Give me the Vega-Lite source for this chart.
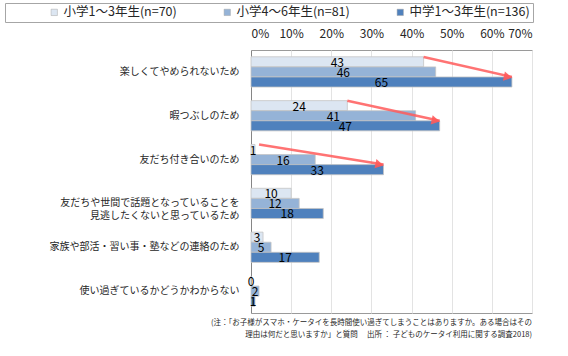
{
  "$schema": "https://vega.github.io/schema/vega-lite/v6.json",
  "width": 281,
  "height": 263,
  "autosize": "none",
  "padding": {"left": 251, "top": 50, "right": 36, "bottom": 43},
  "config": {
    "font": "Noto Sans CJK JP",
    "view": {"stroke": "#9A9A9A", "strokeWidth": 1}
  },
  "title": {
    "text": ["(注：「お子様がスマホ・ケータイを長時間使い過ぎてしまうことはありますか。ある場合はその", "理由は何だと思いますか」と質問　 出所 ： 子どものケータイ利用に関する調査2018)"],
    "orient": "bottom",
    "anchor": "end",
    "align": "right",
    "frame": "group",
    "fontSize": 7.5,
    "fontWeight": "normal",
    "lineHeight": 11.5,
    "color": "#262626",
    "offset": 6
  },
  "datasets": {
    "bars": [
      {"cat": "楽しくてやめられないため", "series": "小学1～3年生(n=70)", "v": 43},
      {"cat": "楽しくてやめられないため", "series": "小学4～6年生(n=81)", "v": 46},
      {"cat": "楽しくてやめられないため", "series": "中学1～3年生(n=136)", "v": 65},
      {"cat": "暇つぶしのため", "series": "小学1～3年生(n=70)", "v": 24},
      {"cat": "暇つぶしのため", "series": "小学4～6年生(n=81)", "v": 41},
      {"cat": "暇つぶしのため", "series": "中学1～3年生(n=136)", "v": 47},
      {"cat": "友だち付き合いのため", "series": "小学1～3年生(n=70)", "v": 1},
      {"cat": "友だち付き合いのため", "series": "小学4～6年生(n=81)", "v": 16},
      {"cat": "友だち付き合いのため", "series": "中学1～3年生(n=136)", "v": 33},
      {"cat": "友だちや世間で話題となっていることを見逃したくないと思っているため", "series": "小学1～3年生(n=70)", "v": 10},
      {"cat": "友だちや世間で話題となっていることを見逃したくないと思っているため", "series": "小学4～6年生(n=81)", "v": 12},
      {"cat": "友だちや世間で話題となっていることを見逃したくないと思っているため", "series": "中学1～3年生(n=136)", "v": 18},
      {"cat": "家族や部活・習い事・塾などの連絡のため", "series": "小学1～3年生(n=70)", "v": 3},
      {"cat": "家族や部活・習い事・塾などの連絡のため", "series": "小学4～6年生(n=81)", "v": 5},
      {"cat": "家族や部活・習い事・塾などの連絡のため", "series": "中学1～3年生(n=136)", "v": 17},
      {"cat": "使い過ぎているかどうかわからない", "series": "小学1～3年生(n=70)", "v": 0},
      {"cat": "使い過ぎているかどうかわからない", "series": "小学4～6年生(n=81)", "v": 2},
      {"cat": "使い過ぎているかどうかわからない", "series": "中学1～3年生(n=136)", "v": 1}
    ],
    "arrows": [
      {"cat": "楽しくてやめられないため", "from": 43, "to": 65},
      {"cat": "暇つぶしのため", "from": 24, "to": 47},
      {"cat": "友だち付き合いのため", "from": 2, "to": 33}
    ]
  },
  "encoding": {
    "y": {
      "field": "cat",
      "type": "nominal",
      "title": null,
      "scale": {
        "domain": ["楽しくてやめられないため", "暇つぶしのため", "友だち付き合いのため", "友だちや世間で話題となっていることを見逃したくないと思っているため", "家族や部活・習い事・塾などの連絡のため", "使い過ぎているかどうかわからない"],
        "paddingInner": 0.31,
        "paddingOuter": 0.155
      },
      "axis": {
        "domain": true,
        "domainColor": "#868686",
        "ticks": false,
        "labelFontSize": 10,
        "labelPadding": 12,
        "labelColor": "#262626",
        "labelLimit": 260,
        "labelLineHeight": 13,
        "labelExpr": "length(datum.label) > 20 ? [substring(datum.label, 0, 18), substring(datum.label, 18) + '　'] : datum.label"
      }
    }
  },
  "resolve": {"scale": {"x": "independent"}},
  "layer": [
    {
      "data": {"name": "bars"},
      "mark": {"type": "bar", "stroke": "#C4C4C4", "strokeWidth": 0.8},
      "encoding": {
        "x": {
          "field": "v",
          "type": "quantitative",
          "title": null,
          "scale": {"domain": [0, 70], "nice": false},
          "axis": {
            "orient": "top",
            "values": [0, 10, 20, 30, 40, 50, 60, 70],
            "labelExpr": "datum.value + '%'",
            "grid": true,
            "gridColor": "#E3E3E3",
            "domain": false,
            "ticks": false,
            "labelPadding": 10,
            "labelFontSize": 12,
            "labelColor": "#262626"
          }
        },
        "yOffset": {
          "field": "series",
          "type": "nominal",
          "scale": {"domain": ["小学1～3年生(n=70)", "小学4～6年生(n=81)", "中学1～3年生(n=136)"]}
        },
        "color": {
          "field": "series",
          "type": "nominal",
          "scale": {
            "domain": ["小学1～3年生(n=70)", "小学4～6年生(n=81)", "中学1～3年生(n=136)"],
            "range": ["#DCE6F2", "#95B3D7", "#4F81BD"]
          },
          "legend": {
            "orient": "none",
            "legendX": -246,
            "legendY": -47,
            "direction": "horizontal",
            "title": "一一一",
            "titleColor": "rgba(255,255,255,0)",
            "titleOrient": "left",
            "titleFontSize": 12,
            "titlePadding": 3,
            "padding": 3,
            "strokeColor": "#A6A6A6",
            "symbolType": "square",
            "symbolSize": 40,
            "symbolStrokeColor": "#A6A6A6",
            "symbolStrokeWidth": 0.5,
            "labelFontSize": 12.5,
            "labelColor": "#262626",
            "labelOffset": 3,
            "labelLimit": 400,
            "columnPadding": 44,
            "labelExpr": "indexof(datum.label, '中学') == 0 ? datum.label + '　　　' : datum.label"
          }
        }
      }
    },
    {
      "data": {"name": "bars"},
      "mark": {"type": "text", "fontSize": 12, "color": "#000000", "align": "center", "baseline": "middle", "dy": 1},
      "encoding": {
        "x": {"field": "v", "type": "quantitative", "scale": {"domain": [0, 140], "nice": false}, "axis": null},
        "yOffset": {
          "field": "series",
          "type": "nominal",
          "scale": {"domain": ["小学1～3年生(n=70)", "小学4～6年生(n=81)", "中学1～3年生(n=136)"]}
        },
        "text": {"field": "v", "type": "quantitative"}
      }
    },
    {
      "data": {"name": "arrows"},
      "mark": {"type": "rule", "color": "#FF5A5A", "strokeWidth": 2.5, "opacity": 0.85, "yOffset": -15, "y2Offset": 5},
      "encoding": {
        "x": {"field": "from", "type": "quantitative", "scale": {"domain": [0, 70], "nice": false}, "axis": null},
        "x2": {"field": "to"},
        "y2": {"field": "cat"}
      }
    },
    {
      "data": {"name": "arrows"},
      "mark": {"type": "point", "shape": "triangle-right", "filled": true, "size": 90, "angle": 12, "color": "#FF5A5A", "opacity": 0.9, "yOffset": 5, "xOffset": -4},
      "encoding": {
        "x": {"field": "to", "type": "quantitative", "scale": {"domain": [0, 70], "nice": false}, "axis": null}
      }
    }
  ]
}
